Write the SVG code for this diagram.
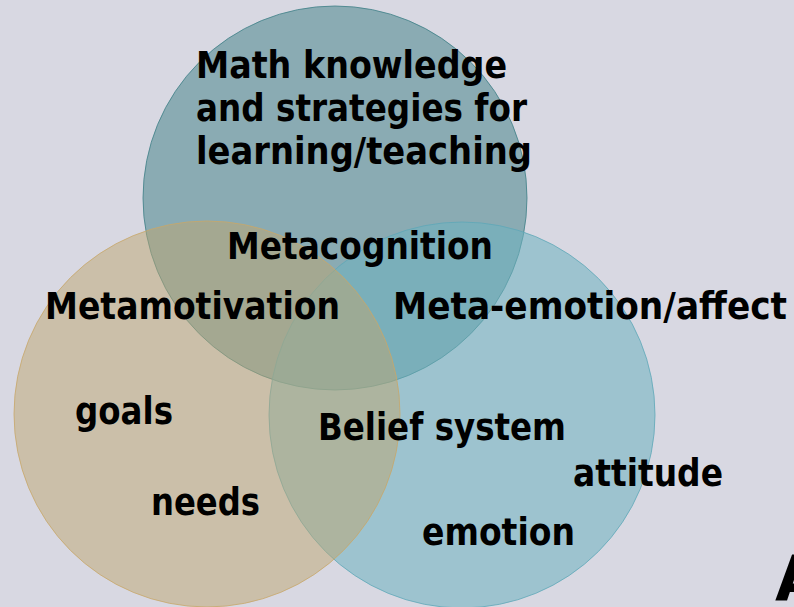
<svg xmlns="http://www.w3.org/2000/svg" width="794" height="607" viewBox="0 0 794 607">
<style>
.t{font-family:"DejaVu Sans","Liberation Sans",sans-serif;font-weight:bold;font-size:37px;fill:#000}
</style>
<rect x="0" y="0" width="794" height="607" fill="#D8D8E2"/>
<g id="circle-top"><circle cx="335" cy="198" r="192" fill="#4A868D" fill-opacity="0.55" stroke="#3E7F87" stroke-opacity="0.8" stroke-width="1"/></g>
<g id="circle-right"><circle cx="462" cy="415" r="193" fill="#6EB2C0" fill-opacity="0.55" stroke="#5FA8B8" stroke-opacity="0.8" stroke-width="1"/></g>
<g id="circle-left"><circle cx="207" cy="414" r="193" fill="#BEA670" fill-opacity="0.5" stroke="#C8A86A" stroke-opacity="0.8" stroke-width="1"/></g>
<g id="connectors"></g>
<g id="labels">
<text class="t" x="196" y="78" textLength="311" lengthAdjust="spacingAndGlyphs">Math knowledge</text>
<text class="t" x="196" y="121" textLength="331" lengthAdjust="spacingAndGlyphs">and strategies for</text>
<text class="t" x="196" y="164" textLength="336" lengthAdjust="spacingAndGlyphs">learning/teaching</text>
<text class="t" x="227" y="259" textLength="266" lengthAdjust="spacingAndGlyphs">Metacognition</text>
<text class="t" x="45" y="319" textLength="295" lengthAdjust="spacingAndGlyphs">Metamotivation</text>
<text class="t" x="393" y="319" textLength="394" lengthAdjust="spacingAndGlyphs">Meta-emotion/affect</text>
<text class="t" x="75" y="424" textLength="98" lengthAdjust="spacingAndGlyphs">goals</text>
<text class="t" x="318" y="440" textLength="248" lengthAdjust="spacingAndGlyphs">Belief system</text>
<text class="t" x="573" y="486" textLength="150" lengthAdjust="spacingAndGlyphs">attitude</text>
<text class="t" x="151" y="515" textLength="109" lengthAdjust="spacingAndGlyphs">needs</text>
<text class="t" x="422" y="545" textLength="153" lengthAdjust="spacingAndGlyphs">emotion</text>
<text class="t" x="775" y="600" style="font-size:62px">A</text>
</g>
</svg>
